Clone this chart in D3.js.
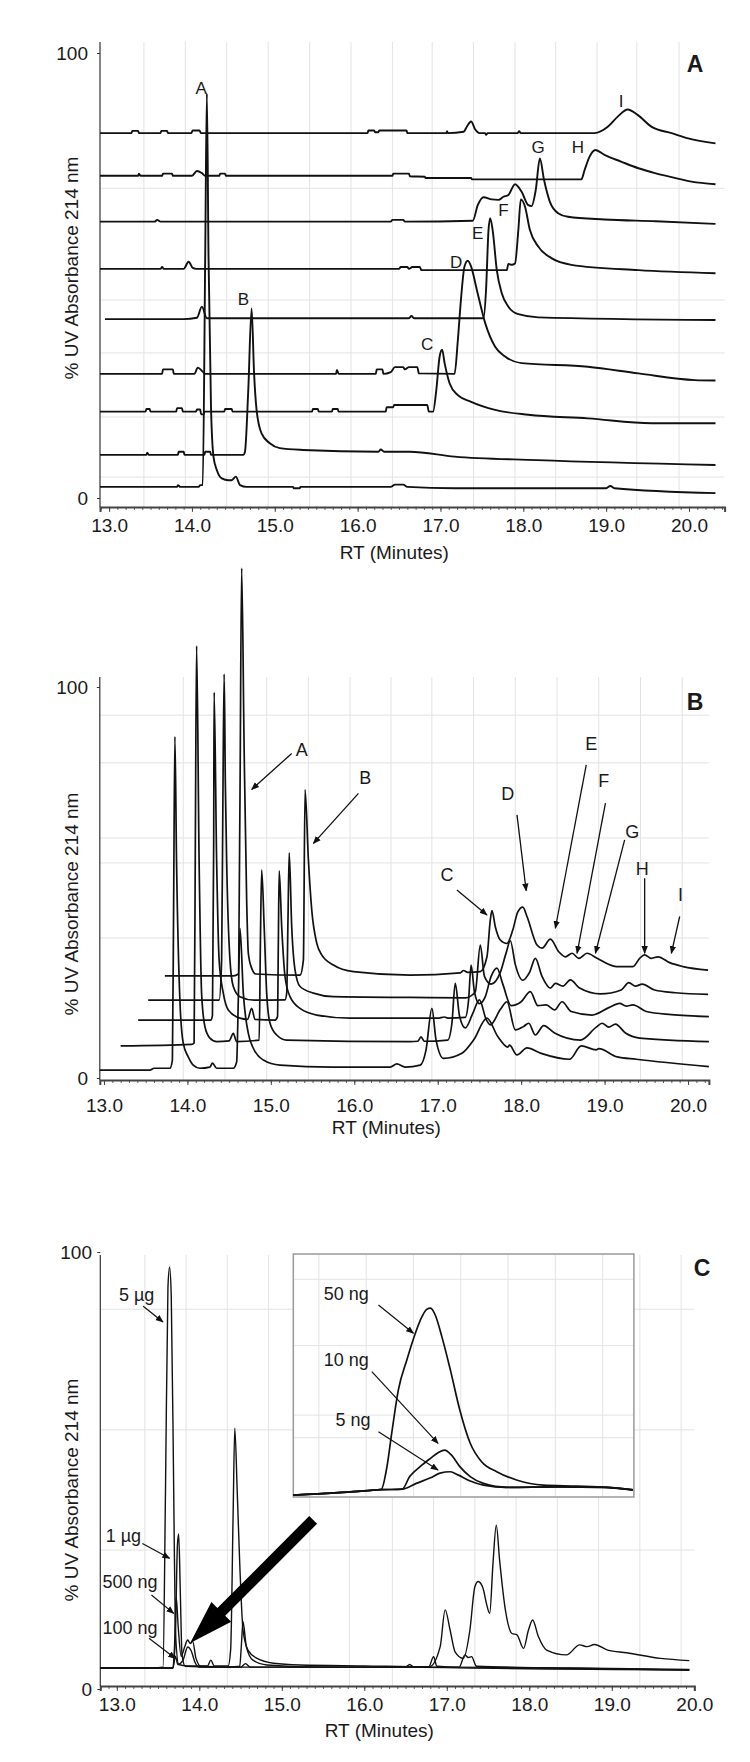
<!DOCTYPE html>
<html><head><meta charset="utf-8">
<script src="https://cdn.jsdelivr.net/npm/d3@7"></script>
<style>
body{margin:0;background:#fff}
text{font-family:"Liberation Sans",Arial,sans-serif;fill:#1a1a1a}
</style></head><body>
<script>
// ---------------- DATA ----------------
const xTickValues = [13, 14, 15, 16, 17, 18, 19, 20];
const yTickValues = [0, 100];
const xTitle = "RT (Minutes)";
const yTitle = "% UV Absorbance 214 nm";

// Panel A: nine stacked chromatograms [RT, % absorbance]
const A_trace1 = [[12.89,82.0],[13.27,82.0],[13.28,82.5],[13.35,82.5],[13.36,82.0],[13.62,82.0],[13.63,82.5],[13.70,82.5],[13.71,82.0],[13.99,82.0],[14.01,82.6],[14.09,82.6],[14.11,82.0],[16.12,82.0],[16.13,82.6],[16.20,82.6],[16.21,82.2],[16.25,82.2],[16.26,82.6],[16.59,82.6],[16.60,82.0],[17.07,82.0],[17.08,82.4],[17.09,82.0],[17.28,82.3],[17.32,83.5],[17.37,84.6],[17.42,82.8],[17.47,82.0],[17.54,82.0],[17.55,81.6],[17.57,82.0],[17.93,82.0],[17.95,82.4],[17.97,82.0],[18.86,82.0],[19.02,83.4],[19.14,85.7],[19.26,87.3],[19.38,86.1],[19.55,83.4],[19.79,82.0],[19.99,80.8],[20.32,79.7]];
const A_trace2 = [[12.89,72.4],[13.35,72.4],[13.36,72.9],[13.38,72.4],[13.64,72.4],[13.65,72.9],[13.76,72.9],[13.77,72.4],[14.00,72.4],[14.06,73.5],[14.12,73.0],[14.16,72.4],[14.33,72.4],[14.34,72.9],[14.40,72.9],[14.41,72.4],[16.42,72.4],[16.43,72.9],[16.62,72.9],[16.63,72.3],[16.81,72.2],[16.82,71.9],[17.37,71.9],[17.38,71.6],[18.70,71.6],[18.74,73.7],[18.80,76.7],[18.87,78.2],[18.98,77.1],[19.18,75.6],[19.39,74.1],[19.59,73.0],[19.79,72.1],[20.03,71.1],[20.32,70.5]];
const A_trace3 = [[12.89,62.1],[13.55,62.1],[13.58,62.5],[13.62,62.1],[16.40,62.1],[16.42,62.5],[16.55,62.5],[16.57,62.1],[17.39,62.3],[17.45,65.8],[17.52,67.6],[17.62,67.1],[17.70,67.0],[17.76,67.7],[17.82,68.1],[17.90,70.5],[17.98,68.8],[18.06,65.8],[18.10,65.6],[18.15,69.2],[18.20,76.3],[18.25,71.5],[18.32,66.6],[18.42,64.0],[18.54,63.2],[18.98,62.6],[19.60,62.2],[20.32,61.6]];
const A_trace4 = [[12.89,51.5],[13.62,51.5],[13.64,51.9],[13.66,51.5],[13.90,51.5],[13.96,53.1],[14.01,51.7],[14.05,51.5],[16.50,51.5],[16.52,51.9],[16.60,51.9],[16.62,51.5],[16.66,51.9],[16.75,51.9],[16.77,51.2],[17.80,51.2],[17.82,52.6],[17.86,52.4],[17.90,52.7],[17.94,60.2],[17.97,67.1],[18.02,65.5],[18.08,60.2],[18.18,56.5],[18.34,53.9],[18.58,52.4],[19.39,51.2],[20.32,50.5]];
const A_trace5 = [[12.95,40.2],[13.90,40.2],[14.06,40.5],[14.12,43.0],[14.18,40.4],[16.00,40.4],[16.62,40.4],[16.65,40.9],[16.68,40.4],[17.52,40.4],[17.55,46.7],[17.58,60.2],[17.60,62.9],[17.63,60.2],[17.68,51.2],[17.74,46.0],[17.82,43.0],[17.94,41.3],[18.18,40.6],[20.32,40.0]];
const A_trace6 = [[12.89,27.9],[13.64,27.9],[13.65,28.9],[13.77,28.9],[13.78,27.9],[14.03,27.9],[14.07,29.3],[14.13,28.4],[14.16,27.9],[15.74,27.9],[15.75,28.8],[15.77,27.9],[16.22,27.9],[16.23,28.9],[16.30,28.9],[16.31,27.9],[16.40,28.3],[16.45,29.4],[16.55,29.4],[16.57,28.9],[16.62,29.4],[16.72,29.4],[16.74,28.0],[17.17,27.9],[17.21,35.5],[17.25,45.2],[17.29,52.0],[17.33,53.3],[17.37,52.0],[17.44,46.7],[17.54,39.3],[17.66,34.0],[17.78,31.8],[17.98,30.3],[18.78,29.5],[19.39,28.0],[20.07,26.5],[20.32,26.4]];
const A_trace7 = [[12.89,19.4],[13.44,19.4],[13.45,20.0],[13.49,20.0],[13.50,19.4],[13.81,19.4],[13.82,20.2],[13.88,20.2],[13.89,19.4],[14.05,19.4],[14.06,19.9],[14.10,19.9],[14.11,18.8],[14.14,18.8],[14.15,19.4],[14.39,19.4],[14.40,20.0],[14.48,20.0],[14.49,19.4],[15.45,19.4],[15.46,20.0],[15.52,20.0],[15.53,19.4],[15.69,19.4],[15.70,20.0],[15.76,20.0],[15.77,19.4],[16.34,19.4],[16.35,20.4],[16.43,20.4],[16.44,20.9],[16.84,20.9],[16.86,19.4],[16.91,19.4],[16.95,24.3],[16.99,31.8],[17.02,33.3],[17.05,30.3],[17.11,25.8],[17.21,23.1],[17.37,21.6],[17.66,19.8],[18.06,18.7],[18.78,17.9],[19.55,16.8],[20.32,16.8]];
const A_trace8 = [[12.89,9.7],[13.45,9.7],[13.46,10.2],[13.48,9.7],[13.83,9.7],[13.84,10.4],[13.90,10.4],[13.91,9.7],[14.15,9.7],[14.16,10.4],[14.22,10.4],[14.23,9.7],[14.62,9.7],[14.64,10.4],[14.68,24.3],[14.72,42.6],[14.75,28.0],[14.78,19.8],[14.84,14.5],[14.94,12.3],[15.06,11.2],[15.34,10.8],[16.25,10.4],[16.28,10.9],[16.32,10.4],[16.63,10.4],[17.17,9.3],[18.17,8.5],[20.32,7.4]];
const A_trace9 = [[12.89,2.5],[13.82,2.5],[13.83,2.9],[13.86,2.5],[14.08,2.5],[14.10,2.9],[14.13,2.9],[14.16,54.2],[14.18,90.9],[14.20,54.2],[14.23,20.5],[14.26,9.3],[14.30,6.3],[14.36,4.4],[14.44,4.0],[14.48,4.0],[14.53,4.8],[14.58,2.9],[14.66,2.5],[15.22,2.5],[15.23,2.2],[15.30,2.2],[15.31,2.5],[16.40,2.5],[16.45,3.0],[16.55,3.0],[16.60,2.5],[17.17,2.2],[19.00,2.2],[19.05,2.7],[19.10,2.2],[20.32,1.1]];
const A_peakLabels = [["A",14.11,92.1],["B",14.62,44.7],["C",16.84,34.6],["D",17.19,53.1],["E",17.45,59.6],["F",17.76,64.6],["G",18.18,78.8],["H",18.66,78.8],["I",19.18,89.1]];
const A_gridV = [13.42,13.92,14.42,14.92,15.42,15.92,16.42,16.90,17.40,17.90,18.39,18.89,19.37,19.88];
const A_gridH = [69.6,44.5,32.6,18.2,4.7];

// Panel B: five offset chromatograms
const B_trace1 = [[12.95,2.0],[13.55,2.0],[13.60,2.5],[13.79,2.5],[13.82,4.6],[13.835,45],[13.85,87.3],[13.87,55],[13.91,19.9],[13.95,8.9],[14.01,5.4],[14.07,3.3],[14.15,2.5],[14.27,2.8],[14.30,3.8],[14.35,2.5],[14.55,2.5],[14.59,4.1],[14.61,20],[14.63,38.3],[14.67,21.7],[14.73,11.4],[14.79,7.6],[14.91,4.6],[15.11,3.3],[15.74,2.8],[16.43,2.8],[16.51,3.6],[16.61,2.8],[16.79,3.3],[16.86,7.2],[16.93,17.8],[16.98,9.7],[17.07,5.0],[17.29,6.3],[17.43,9.7],[17.59,15.3],[17.72,10.6],[17.84,7.9],[17.86,8.4],[17.95,5.9],[18.07,7.7],[18.24,6.3],[18.58,4.8],[18.72,8.2],[18.90,7.2],[18.93,7.5],[19.15,5.4],[19.38,4.8],[20.25,2.9]];
const B_trace2 = [[13.20,8.2],[14.05,8.6],[14.08,8.9],[14.095,60],[14.11,110.5],[14.14,55.8],[14.17,21.7],[14.21,13.1],[14.27,10.2],[14.35,9.3],[14.50,9.5],[14.55,11.4],[14.59,9.3],[14.86,9.7],[14.875,35],[14.89,53.2],[14.92,38.7],[14.95,21.7],[14.99,14.0],[15.07,11.0],[15.19,9.7],[16.67,9.3],[16.76,9.4],[16.80,10.5],[16.84,9.4],[17.12,9.7],[17.17,14],[17.21,24.2],[17.26,16],[17.33,12.8],[17.42,16.5],[17.50,20.0],[17.58,15],[17.63,13.6],[17.75,17.5],[17.83,19.5],[17.93,12.3],[18.03,13.2],[18.09,14.0],[18.17,11.0],[18.27,13.4],[18.40,11.5],[18.71,9.7],[18.90,13.0],[18.97,14.0],[19.05,13.0],[19.13,13.8],[19.25,11.5],[19.42,10.2],[20.25,9.3]];
const B_trace3 = [[13.41,14.8],[14.28,14.8],[14.30,16],[14.315,60],[14.32,98.6],[14.35,55.8],[14.38,30.2],[14.43,21.7],[14.49,17.4],[14.63,15.3],[14.72,15.0],[14.77,17.8],[14.81,15.0],[15.05,14.8],[15.08,15.7],[15.09,35],[15.10,53.0],[15.13,38.7],[15.17,25.9],[15.23,20.8],[15.35,17.8],[15.55,16.1],[15.95,15.3],[16.67,15.3],[17.00,15.3],[17.08,15.6],[17.12,15.3],[17.33,15.5],[17.37,20],[17.40,28.9],[17.44,22],[17.50,19],[17.57,20.8],[17.64,26],[17.71,28.1],[17.78,24],[17.88,18.5],[18.00,19.5],[18.11,22.1],[18.20,18.5],[18.30,18.7],[18.40,17.4],[18.49,19.5],[18.60,17.0],[18.85,16.1],[19.05,18.0],[19.18,19.1],[19.26,18.4],[19.34,18.7],[19.50,17.0],[19.80,16.2],[20.25,15.7]];
const B_trace4 = [[13.53,19.9],[14.38,19.9],[14.41,30],[14.425,70],[14.44,103.3],[14.455,75],[14.47,55.8],[14.51,30.2],[14.55,23.4],[14.63,20.8],[14.80,19.9],[15.17,20.0],[15.19,21.7],[15.205,40],[15.22,57.6],[15.25,38.7],[15.29,27.6],[15.35,23.4],[15.51,21.7],[15.75,20.8],[16.67,20.6],[17.33,20.5],[17.45,22],[17.51,34.0],[17.56,26],[17.64,24],[17.75,27],[17.82,32],[17.87,35.1],[17.93,29],[18.02,25],[18.10,27],[18.17,30.6],[18.25,26],[18.35,23],[18.41,24.2],[18.50,23.5],[18.59,25.1],[18.70,23],[18.95,21.5],[19.20,22.5],[19.29,24.4],[19.37,23.5],[19.45,24.0],[19.60,22.5],[19.85,21.8],[20.24,21.4]];
const B_trace5 = [[13.73,26.1],[14.55,26.1],[14.61,26.6],[14.63,71.1],[14.65,130.4],[14.68,83.9],[14.71,45.5],[14.73,31.9],[14.77,28.1],[14.82,26.6],[15.35,26.3],[15.39,30.2],[15.41,73.7],[15.45,55.8],[15.49,43.0],[15.55,34.5],[15.61,31.5],[15.75,28.9],[15.99,27.2],[16.67,26.3],[17.27,26.9],[17.31,27.5],[17.36,27.0],[17.51,27.2],[17.59,31.0],[17.63,40.4],[17.65,42.8],[17.69,38.7],[17.75,35.3],[17.83,34.4],[17.90,37.9],[17.96,42.5],[18.02,43.7],[18.07,41.3],[18.19,34.0],[18.25,33.2],[18.35,35.5],[18.45,32.3],[18.53,31.0],[18.61,31.9],[18.69,30.6],[18.79,31.9],[18.91,30.6],[19.14,28.5],[19.34,28.5],[19.42,30.6],[19.48,31.5],[19.56,30.6],[19.64,31.0],[19.78,29.5],[19.94,28.5],[20.24,27.6]];
// label, text RT, text %, arrow start RT, %, arrow end RT, %
const B_peakLabels = [["A",15.37,83.9,15.25,83.0,14.77,73.8],["B",16.13,76.7,16.05,72.8,15.51,60.0],["C",17.11,51.9,17.23,48.1,17.59,41.7],["D",17.84,72.6,17.95,67.3,18.06,47.9],["E",18.84,85.6,18.78,80.1,18.41,38.3],["F",18.99,76.0,19.01,70.3,18.67,31.9],["G",19.33,63.0,19.24,60.9,18.89,31.9],["H",19.45,53.6,19.48,51.1,19.48,31.9],["I",19.91,46.8,19.90,41.3,19.80,31.9]];
const B_gridV = [13.95,14.45,14.95,15.45,15.95,16.44,16.93,17.43,17.93,18.43,18.93,19.43,19.93];
const B_gridH = [92.8,80.6,61.4,55.0,35.8];

// Panel C: load series
const C_5ug = [[12.80,4.8],[13.50,4.9],[13.56,5.0],[13.59,45],[13.62,92],[13.64,96.5],[13.66,90],[13.69,45],[13.71,13.5],[13.75,5.6],[13.85,5.3],[14.10,5.3],[14.14,6.6],[14.18,5.3],[14.35,5.3],[14.38,9],[14.41,40],[14.43,59.7],[14.46,45],[14.49,28.8],[14.53,13.5],[14.59,8.9],[14.70,7.0],[14.90,5.9],[15.22,5.5],[16.00,5.3],[16.79,5.1],[16.92,9.7],[16.98,18.1],[17.04,13.5],[17.10,8.5],[17.20,7.0],[17.28,13.5],[17.34,23.4],[17.38,24.6],[17.44,23.0],[17.48,19.6],[17.52,17.3],[17.56,28.8],[17.60,37.5],[17.64,29.5],[17.71,18.1],[17.79,12.7],[17.85,12.4],[17.93,9.3],[17.99,13.5],[18.04,15.8],[18.11,12.0],[18.21,8.9],[18.45,7.8],[18.61,10.1],[18.70,9.7],[18.79,10.2],[18.95,8.9],[19.18,8.3],[19.59,7.0],[19.94,6.5]];
const C_1ug = [[12.80,4.8],[13.68,4.8],[13.71,12],[13.735,33],[13.75,35.5],[13.77,22],[13.79,8],[13.83,5.2],[14.30,5.0],[14.49,5.2],[14.51,10],[14.53,15.4],[14.57,9.7],[14.65,6.6],[14.82,5.5],[15.50,5.0],[16.78,5.0],[16.84,7.4],[16.88,5.2],[17.15,5.0],[17.22,7.8],[17.26,7.2],[17.30,7.4],[17.36,5.2],[18.50,4.8],[19.94,4.5]];
const C_500ng = [[12.80,4.8],[13.68,4.8],[13.70,10],[13.72,21],[13.745,14],[13.78,7.5],[13.82,9.5],[13.86,11.2],[13.89,10.4],[13.92,10.9],[13.96,7.0],[14.02,5.2],[14.50,5.0],[14.56,5.8],[14.62,5.0],[16.50,5.0],[16.55,5.6],[16.60,5.0],[19.94,4.4]];
const C_100ng = [[12.80,4.8],[13.68,4.8],[13.71,7.5],[13.74,5.6],[13.80,6.5],[13.86,9.6],[13.90,8.8],[13.95,6.0],[14.00,5.0],[17.00,5.0],[19.94,4.3]];
const C_labels = [["5 µg",13.24,90.2,13.32,87.6,13.56,84.0],["1 µg",13.08,35.0,13.31,33.3,13.64,29.9],["500 ng",13.16,24.6,13.42,21.5,13.69,17.3],["100 ng",13.16,14.1,13.39,11.6,13.71,7.0]];
const C_bigArrow = [15.38,38.7,13.89,10.5]; // tail RT,%, tip RT,%
const C_gridV = [13.34,13.84,14.34,14.84,15.34,15.82,16.34,16.84,17.34,17.84,18.34,18.84,19.34,19.84];
const C_gridH = [86.9,59.3,31.8];

// Inset of panel C (low loads)
const I_50ng = [[15.23,0.8],[15.80,2.0],[16.16,3.2],[16.22,12.5],[16.27,26.2],[16.34,44.0],[16.43,56.4],[16.52,67.4],[16.59,74.2],[16.64,77.2],[16.68,77.7],[16.73,74.9],[16.80,66.0],[16.89,52.3],[16.99,35.8],[17.10,22.1],[17.22,14.5],[17.38,10.4],[17.59,7.0],[17.87,4.9],[18.23,4.5],[18.54,4.0],[18.82,2.9]];
const I_10ng = [[15.23,0.8],[15.80,2.0],[16.16,3.0],[16.38,3.2],[16.46,8.4],[16.57,12.5],[16.68,15.9],[16.76,18.2],[16.83,19.3],[16.90,17.3],[16.99,12.5],[17.10,8.4],[17.24,5.6],[17.49,4.0],[18.01,4.2],[18.54,4.0],[18.82,2.9]];
const I_5ng = [[15.23,0.8],[15.80,2.0],[16.16,3.0],[16.38,3.2],[16.53,5.6],[16.68,7.9],[16.78,9.8],[16.89,10.4],[16.97,9.1],[17.10,6.6],[17.24,4.9],[17.49,4.0],[18.01,4.2],[18.54,4.0],[18.82,2.9]];
const I_labels = [["50 ng",15.79,83.8,16.13,79.0,16.50,67.4],["10 ng",15.79,56.4,16.06,51.6,16.76,22.1],["5 ng",15.86,31.7,16.13,26.9,16.76,11.1]];
const I_gridV = [15.5,16.0,16.5,17.0,17.5,18.0,18.5];
const I_gridH = [89.6,62.3,33.7,24.4];

// ---------------- DRAWING ----------------
const svg = d3.select("body").append("svg").attr("width", 750).attr("height", 1762);
svg.append("rect").attr("width", 750).attr("height", 1762).attr("fill", "#fff");
const defs = svg.append("defs");
defs.append("marker").attr("id", "ah").attr("viewBox", "0 0 10 10")
  .attr("refX", 9).attr("refY", 5).attr("markerWidth", 8).attr("markerHeight", 8)
  .attr("markerUnits", "userSpaceOnUse").attr("orient", "auto")
  .append("path").attr("d", "M0,1 L10,5 L0,9 Z").attr("fill", "#111");

const GRID = "#e3e3e3";

function drawPanel(p) {
  const x = d3.scaleLinear().domain(p.xDomain).range(p.xRange);
  const y = d3.scaleLinear().domain([0, 100]).range(p.yRange);
  const g = svg.append("g");
  const yAxisPix = y(p.axisV);
  // grid
  g.selectAll(null).data(p.gridV).enter().append("line")
    .attr("x1", d => x(d)).attr("x2", d => x(d)).attr("y1", p.top).attr("y2", yAxisPix)
    .attr("stroke", GRID).attr("stroke-width", 1);
  g.selectAll(null).data(p.gridH).enter().append("line")
    .attr("x1", p.xRange[0]).attr("x2", p.xRange[1]).attr("y1", d => y(d)).attr("y2", d => y(d))
    .attr("stroke", GRID).attr("stroke-width", 1);
  // x axis minor ticks
  const minor = d3.range(Math.ceil(p.xDomain[0] * 10), Math.floor(p.xDomain[1] * 10) + 1).map(d => d / 10);
  const gm = g.append("g").attr("transform", `translate(0,${yAxisPix})`)
    .call(d3.axisBottom(x).tickValues(minor).tickSize(3).tickFormat(""));
  gm.select(".domain").remove();
  gm.selectAll("line").attr("stroke", "#555");
  // x axis
  const gx = g.append("g").attr("transform", `translate(0,${yAxisPix})`)
    .call(d3.axisBottom(x).tickValues(xTickValues).tickSize(5).tickFormat(d3.format(".1f")));
  gx.select(".domain").attr("stroke", "#444").attr("stroke-width", 2);
  gx.selectAll("line").attr("stroke", "#444");
  gx.selectAll("text").attr("y", p.tickLabelDy).attr("dy", 0)
    .style("font-size", "19px").style("font-family", '"Liberation Sans",Arial,sans-serif').attr("fill", "#1a1a1a");
  // y axis
  g.append("line").attr("x1", p.xRange[0]).attr("x2", p.xRange[0]).attr("y1", p.top).attr("y2", yAxisPix)
    .attr("stroke", "#333").attr("stroke-width", 1.2);
  const gy = g.append("g").attr("transform", `translate(${p.xRange[0]},0)`)
    .call(d3.axisLeft(y).tickValues(yTickValues).tickSize(3).tickFormat(d3.format("d")));
  gy.select(".domain").remove();
  gy.selectAll("line").attr("stroke", "#333");
  gy.selectAll("text").attr("x", p.yLabelX - p.xRange[0]).attr("dy", "0.35em")
    .style("font-size", "19px").style("font-family", '"Liberation Sans",Arial,sans-serif').attr("fill", "#1a1a1a");
  // titles
  g.append("text").attr("x", (p.xRange[0] + p.xRange[1]) / 2 - 18).attr("y", p.xTitleY)
    .attr("text-anchor", "middle").style("font-size", "19px").text(xTitle);
  g.append("text").attr("transform", `translate(78,${p.yTitleY}) rotate(-90)`)
    .attr("text-anchor", "middle").style("font-size", "19px").text(yTitle);
  g.append("text").attr("x", p.letterX).attr("y", p.letterY).attr("text-anchor", "middle")
    .attr("dy", "0.35em").style("font-size", "23px").style("font-weight", "bold").text(p.letter);
  // traces
  const line = d3.line().x(d => x(d[0])).y(d => y(d[1])).curve(d3.curveMonotoneX);
  g.selectAll(null).data(p.traces).enter().append("path")
    .attr("d", d => line(d)).attr("fill", "none").attr("stroke", "#111")
    .attr("stroke-width", p.lw).attr("stroke-linejoin", "round");
  return { x, y, g };
}

// ---- Panel A
const pA = drawPanel({
  xDomain: [12.89, 20.43], xRange: [100, 724.6], yRange: [498, 53], axisV: -2, top: 42,
  gridV: A_gridV, gridH: A_gridH, tickLabelDy: 25, yLabelX: 88, xTitleY: 559, yTitleY: 268,
  letter: "A", letterX: 695, letterY: 64,
  traces: [A_trace1, A_trace2, A_trace3, A_trace4, A_trace5, A_trace6, A_trace7, A_trace8, A_trace9], lw: 1.9
});
pA.g.selectAll(null).data(A_peakLabels).enter().append("text")
  .attr("x", d => pA.x(d[1])).attr("y", d => pA.y(d[2])).attr("dy", "0.35em")
  .attr("text-anchor", "middle").style("font-size", "17px").text(d => d[0]);

// ---- Panel B
const pB = drawPanel({
  xDomain: [12.95, 20.25], xRange: [99.8, 708.9], yRange: [1078, 687], axisV: -0.5, top: 677,
  gridV: B_gridV, gridH: B_gridH, tickLabelDy: 32, yLabelX: 88, xTitleY: 1134, yTitleY: 904,
  letter: "B", letterX: 695, letterY: 702,
  traces: [B_trace5, B_trace4, B_trace3, B_trace2, B_trace1], lw: 1.7
});
pB.g.selectAll(null).data(B_peakLabels).enter().append("text")
  .attr("x", d => pB.x(d[1])).attr("y", d => pB.y(d[2])).attr("dy", "0.35em")
  .attr("text-anchor", "middle").style("font-size", "18px").text(d => d[0]);
pB.g.selectAll(null).data(B_peakLabels).enter().append("line")
  .attr("x1", d => pB.x(d[3])).attr("y1", d => pB.y(d[4]))
  .attr("x2", d => pB.x(d[5])).attr("y2", d => pB.y(d[6]))
  .attr("stroke", "#111").attr("stroke-width", 1.3).attr("marker-end", "url(#ah)");

// ---- Panel C
const pC = drawPanel({
  xDomain: [12.8, 20.0], xRange: [100.3, 694.3], yRange: [1689, 1252], axisV: 0.7, top: 1255,
  gridV: C_gridV, gridH: C_gridH, tickLabelDy: 25, yLabelX: 92, xTitleY: 1737, yTitleY: 1490,
  letter: "C", letterX: 702, letterY: 1268,
  traces: [C_100ng, C_500ng, C_1ug, C_5ug], lw: 1.4
});
pC.g.selectAll(null).data(C_labels).enter().append("text")
  .attr("x", d => pC.x(d[1])).attr("y", d => pC.y(d[2])).attr("dy", "0.35em")
  .attr("text-anchor", "middle").style("font-size", "18px").text(d => d[0]);
pC.g.selectAll(null).data(C_labels).enter().append("line")
  .attr("x1", d => pC.x(d[3])).attr("y1", d => pC.y(d[4]))
  .attr("x2", d => pC.x(d[5])).attr("y2", d => pC.y(d[6]))
  .attr("stroke", "#111").attr("stroke-width", 1.2).attr("marker-end", "url(#ah)");

// big black arrow
{
  const tail = [pC.x(C_bigArrow[0]), pC.y(C_bigArrow[1])];
  const tip = [pC.x(C_bigArrow[2]), pC.y(C_bigArrow[3])];
  const dx = tip[0] - tail[0], dy = tip[1] - tail[1], L = Math.hypot(dx, dy);
  const u = [dx / L, dy / L], n = [-u[1], u[0]];
  const hb = [tip[0] - u[0] * 44, tip[1] - u[1] * 44];
  const sw = 5.5, hw = 14;
  const pts = [
    [tail[0] + n[0] * sw, tail[1] + n[1] * sw],
    [hb[0] + n[0] * sw, hb[1] + n[1] * sw],
    [hb[0] + n[0] * hw, hb[1] + n[1] * hw],
    tip,
    [hb[0] - n[0] * hw, hb[1] - n[1] * hw],
    [hb[0] - n[0] * sw, hb[1] - n[1] * sw],
    [tail[0] - n[0] * sw, tail[1] - n[1] * sw]
  ];
  pC.g.append("path").attr("d", "M" + pts.map(p => p.join(",")).join("L") + "Z").attr("fill", "#000");
}

// ---- Inset
{
  const xi = d3.scaleLinear().domain([15.23, 18.83]).range([293.3, 633.9]);
  const yi = d3.scaleLinear().domain([0, 100]).range([1497, 1254]);
  const gi = svg.append("g");
  gi.append("rect").attr("x", 293.3).attr("y", 1254).attr("width", 340.6).attr("height", 243)
    .attr("fill", "#fff").attr("stroke", "#9a9a9a").attr("stroke-width", 1.5);
  gi.selectAll(null).data(I_gridV).enter().append("line")
    .attr("x1", d => xi(d)).attr("x2", d => xi(d)).attr("y1", 1255).attr("y2", 1496)
    .attr("stroke", GRID);
  gi.selectAll(null).data(I_gridH).enter().append("line")
    .attr("x1", 294).attr("x2", 633).attr("y1", d => yi(d)).attr("y2", d => yi(d))
    .attr("stroke", GRID);
  const li = d3.line().x(d => xi(d[0])).y(d => yi(d[1])).curve(d3.curveMonotoneX);
  gi.selectAll(null).data([I_5ng, I_10ng, I_50ng]).enter().append("path")
    .attr("d", d => li(d)).attr("fill", "none").attr("stroke", "#111").attr("stroke-width", 1.7);
  gi.selectAll(null).data(I_labels).enter().append("text")
    .attr("x", d => xi(d[1])).attr("y", d => yi(d[2])).attr("dy", "0.35em")
    .attr("text-anchor", "middle").style("font-size", "18px").text(d => d[0]);
  gi.selectAll(null).data(I_labels).enter().append("line")
    .attr("x1", d => xi(d[3])).attr("y1", d => yi(d[4]))
    .attr("x2", d => xi(d[5])).attr("y2", d => yi(d[6]))
    .attr("stroke", "#111").attr("stroke-width", 1.2).attr("marker-end", "url(#ah)");
}
</script>
</body></html>
